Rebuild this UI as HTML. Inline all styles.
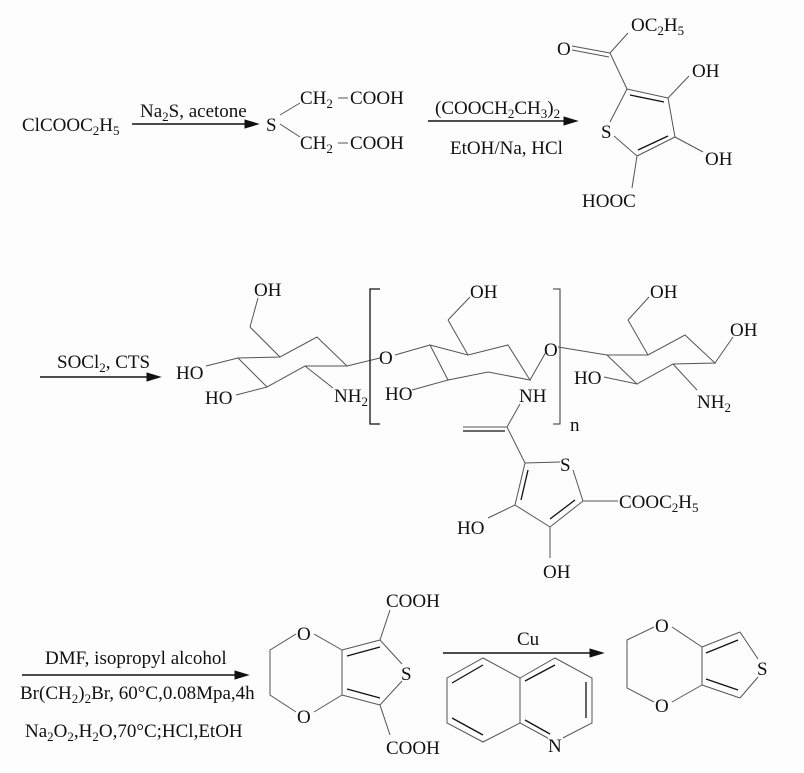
<!DOCTYPE html>
<html><head><meta charset="utf-8"><style>
html,body{margin:0;padding:0;background:#fdfdfd}
svg{display:block}
text{font-family:"Liberation Serif",serif;font-size:19px;fill:#111}
text .s{font-size:13px}
line,polyline,polygon{stroke:#555;stroke-width:1;fill:none}
polygon.h{fill:#111;stroke:#111}
.b{stroke:#111;stroke-width:1.8}
.a{stroke:#111;stroke-width:1.5}
</style></head><body>
<svg width="804" height="773" viewBox="0 0 804 773" xmlns="http://www.w3.org/2000/svg">
<!-- Row 1 -->
<text x="22" y="131">ClCOOC<tspan class="s" dy="4">2</tspan><tspan dy="-4">H</tspan><tspan class="s" dy="4">5</tspan></text>
<line class="a" x1="132" y1="124" x2="250" y2="124"/><polygon class="h" points="258,124 245,120 245,128"/>
<text x="140" y="117">Na<tspan class="s" dy="4">2</tspan><tspan dy="-4">S, acetone</tspan></text>
<text x="266" y="131">S</text>
<line x1="280" y1="115" x2="300" y2="103"/><line x1="280" y1="124" x2="300" y2="137"/>
<text x="300" y="104">CH<tspan class="s" dy="4">2</tspan></text><line x1="338" y1="98" x2="348" y2="98"/><text x="350" y="104">COOH</text>
<text x="300" y="149">CH<tspan class="s" dy="4">2</tspan></text><line x1="338" y1="143" x2="348" y2="143"/><text x="350" y="149">COOH</text>
<line class="a" x1="428" y1="121" x2="568" y2="121"/><polygon class="h" points="577,121 564,117 564,125"/>
<text x="435" y="114">(COOCH<tspan class="s" dy="4">2</tspan><tspan dy="-4">CH</tspan><tspan class="s" dy="4">3</tspan><tspan dy="-4">)</tspan><tspan class="s" dy="4">2</tspan></text>
<text x="450" y="154">EtOH/Na, HCl</text>
<!-- thiophene 1 -->
<text x="557" y="55">O</text>
<line x1="572" y1="46" x2="610" y2="53"/><line x1="572" y1="50" x2="609" y2="57"/>
<line x1="610" y1="53" x2="628" y2="33"/>
<text x="631" y="31">OC<tspan class="s" dy="4">2</tspan><tspan dy="-4">H</tspan><tspan class="s" dy="4">5</tspan></text>
<line x1="610" y1="53" x2="627" y2="89"/>
<line x1="627" y1="89" x2="668" y2="98"/><line x1="630" y1="95" x2="664" y2="102" style="stroke:#111;stroke-width:1.3"/>
<line x1="668" y1="98" x2="689" y2="76"/><text x="692" y="77">OH</text>
<line x1="668" y1="98" x2="675" y2="137"/>
<line x1="675" y1="137" x2="637" y2="156"/><line x1="668" y1="136" x2="638" y2="150" style="stroke:#111;stroke-width:1.3"/>
<line x1="675" y1="137" x2="703" y2="152"/><text x="705" y="165">OH</text>
<line x1="627" y1="89" x2="610" y2="122"/><text x="601" y="138">S</text><line x1="614" y1="136" x2="637" y2="156"/>
<line x1="637" y1="156" x2="632" y2="188"/><text x="582" y="207">HOOC</text>
<!-- Row 2 -->
<line class="a" x1="40" y1="377" x2="150" y2="377"/><polygon class="h" points="160,377 147,373 147,381"/>
<text x="57" y="368">SOCl<tspan class="s" dy="4">2</tspan><tspan dy="-4">, CTS</tspan></text>
<polygon points="238,358 280,357 317,337 347,366 305,366 267,387"/>
<line x1="280" y1="357" x2="250" y2="327"/><line x1="250" y1="327" x2="258" y2="298"/><text x="254" y="296">OH</text>
<line x1="238" y1="358" x2="206" y2="366"/><text x="176" y="379">HO</text>
<line x1="267" y1="387" x2="236" y2="395"/><text x="205" y="404">HO</text>
<line x1="305" y1="366" x2="333" y2="388"/><text x="334" y="402">NH<tspan class="s" dy="4">2</tspan></text>
<line x1="347" y1="366" x2="380" y2="358"/><text x="379" y="364">O</text>
<polyline points="380,289 370,289 370,424 380,424" style="stroke:#111;stroke-width:1.3"/>
<line x1="395" y1="355" x2="430" y2="345"/>
<polygon points="430,345 468,355 508,345 530,380 488,372 448,380"/>
<line x1="468" y1="355" x2="448" y2="320"/><line x1="448" y1="320" x2="470" y2="297"/><text x="470" y="298">OH</text>
<line x1="448" y1="380" x2="412" y2="390"/><text x="385" y="400">HO</text>
<line x1="530" y1="380" x2="546" y2="352"/><text x="544" y="356">O</text>
<text x="519" y="402">NH</text>
<polyline points="553,289 560,289 560,424 553,424" style="stroke:#333;stroke-width:1"/>
<text x="570" y="431">n</text>
<line x1="558" y1="347" x2="607" y2="355"/>
<polygon points="607,355 648,355 685,335 715,363 673,364 637,384"/>
<line x1="648" y1="355" x2="628" y2="320"/><line x1="628" y1="320" x2="649" y2="297"/><text x="650" y="298">OH</text>
<line x1="715" y1="363" x2="733" y2="337"/><text x="730" y="336">OH</text>
<line x1="637" y1="384" x2="604" y2="377"/><text x="574" y="384">HO</text>
<line x1="673" y1="364" x2="697" y2="390"/><text x="697" y="408">NH<tspan class="s" dy="4">2</tspan></text>
<line x1="520" y1="404" x2="507" y2="427"/>
<line x1="507" y1="427" x2="463" y2="427"/><line x1="505" y1="431" x2="463" y2="431" style="stroke:#111;stroke-width:1.3"/>
<line x1="507" y1="427" x2="525" y2="463"/>
<line x1="525" y1="463" x2="560" y2="462"/><text x="560" y="471">S</text>
<line x1="573" y1="470" x2="583" y2="501"/>
<line x1="583" y1="501" x2="618" y2="501"/><text x="619" y="508">COOC<tspan class="s" dy="4">2</tspan><tspan dy="-4">H</tspan><tspan class="s" dy="4">5</tspan></text>
<line x1="583" y1="501" x2="550" y2="527"/><line x1="575" y1="500" x2="550" y2="519" style="stroke:#111;stroke-width:1.3"/>
<line x1="550" y1="527" x2="515" y2="505"/>
<line x1="515" y1="505" x2="525" y2="463"/><line x1="521" y1="500" x2="528" y2="470" style="stroke:#111;stroke-width:1.3"/>
<line x1="515" y1="505" x2="488" y2="518"/><text x="457" y="534">HO</text>
<line x1="550" y1="527" x2="550" y2="558"/><text x="543" y="578">OH</text>
<!-- Row 3 -->
<line class="a" x1="22" y1="675" x2="238" y2="675"/><polygon class="h" points="248,675 235,671 235,679"/>
<text x="45" y="664">DMF, isopropyl alcohol</text>
<text x="20" y="699">Br(CH<tspan class="s" dy="4">2</tspan><tspan dy="-4">)</tspan><tspan class="s" dy="4">2</tspan><tspan dy="-4">Br, 60°C,0.08Mpa,4h</tspan></text>
<text x="25" y="737">Na<tspan class="s" dy="4">2</tspan><tspan dy="-4">O</tspan><tspan class="s" dy="4">2</tspan><tspan dy="-4">,H</tspan><tspan class="s" dy="4">2</tspan><tspan dy="-4">O,70°C;HCl,EtOH</tspan></text>
<text x="297" y="640">O</text><text x="297" y="723">O</text>
<polyline points="296,634 270,650 270,695 296,712"/>
<line x1="314" y1="634" x2="342" y2="650"/><line x1="314" y1="712" x2="342" y2="695"/>
<line x1="342" y1="650" x2="342" y2="695"/>
<line x1="342" y1="650" x2="380" y2="640"/><line x1="347" y1="656" x2="380" y2="647" style="stroke:#111;stroke-width:1.3"/>
<line x1="342" y1="695" x2="380" y2="705"/><line x1="347" y1="689" x2="380" y2="698" style="stroke:#111;stroke-width:1.3"/>
<line x1="380" y1="640" x2="402" y2="664"/><text x="401" y="680">S</text><line x1="402" y1="681" x2="380" y2="705"/>
<line x1="380" y1="640" x2="390" y2="610"/><text x="386" y="607">COOH</text>
<line x1="380" y1="705" x2="390" y2="735"/><text x="386" y="754">COOH</text>
<line class="a" x1="443" y1="653" x2="594" y2="653"/><polygon class="h" points="603,653 590,649 590,657"/>
<text x="517" y="645">Cu</text>
<polygon points="483,658 520,678 520,723 483,742 447,723 447,678"/>
<polygon points="520,678 555,658 592,678 592,723 555,742 520,723"/>
<line x1="452" y1="683" x2="483" y2="665" style="stroke:#111;stroke-width:1.3"/>
<line x1="452" y1="718" x2="483" y2="735" style="stroke:#111;stroke-width:1.3"/>
<line x1="525" y1="681" x2="555" y2="665" style="stroke:#111;stroke-width:1.3"/>
<line x1="586" y1="682" x2="586" y2="718" style="stroke:#111;stroke-width:1.3"/>
<line x1="525" y1="720" x2="550" y2="734" style="stroke:#111;stroke-width:1.3"/>
<rect x="548" y="736" width="15" height="16" fill="#fdfdfd" stroke="none"/>
<text x="548" y="752">N</text>
<text x="655" y="632">O</text><text x="655" y="712">O</text>
<polyline points="654,627 627,640 627,688 654,702"/>
<line x1="672" y1="627" x2="702" y2="647"/><line x1="672" y1="702" x2="702" y2="685"/>
<line x1="702" y1="647" x2="702" y2="685"/>
<line x1="702" y1="647" x2="740" y2="632"/><line x1="706" y1="653" x2="738" y2="640" style="stroke:#111;stroke-width:1.3"/>
<line x1="702" y1="685" x2="740" y2="698"/><line x1="706" y1="679" x2="738" y2="690" style="stroke:#111;stroke-width:1.3"/>
<line x1="740" y1="632" x2="758" y2="659"/><text x="757" y="675">S</text><line x1="758" y1="677" x2="740" y2="698"/>
</svg>
</body></html>
